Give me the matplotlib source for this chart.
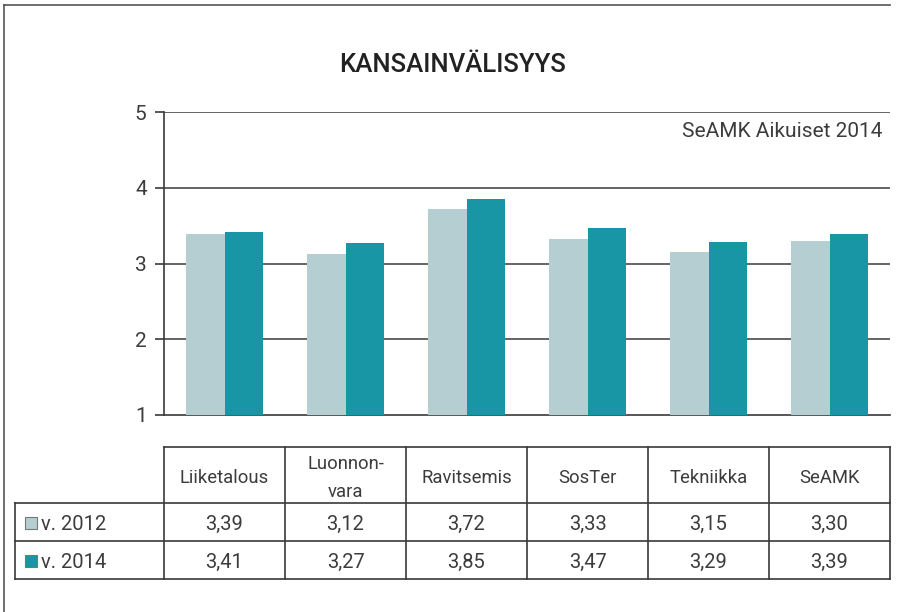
import matplotlib.pyplot as plt
from matplotlib.patches import Rectangle
from matplotlib.lines import Line2D

categories = ["Liiketalous", "Luonnon-\nvara", "Ravitsemis", "SosTer", "Tekniikka", "SeAMK"]
series_names = ["v. 2012", "v. 2014"]
values_2012 = [3.39, 3.12, 3.72, 3.33, 3.15, 3.30]
values_2014 = [3.41, 3.27, 3.85, 3.47, 3.29, 3.39]
y_ticks = [1, 2, 3, 4, 5]

title = "KANSAINVÄLISYYS"
note = "SeAMK Aikuiset 2014"

colors = ["#b5ced2", "#1896a5"]
text_color = "#3c3c3c"
line_color = "#3a3a3a"

plt.rcParams["font.family"] = ["Roboto", "DejaVu Sans"]

W, H = 897, 612
fig = plt.figure(figsize=(W / 100, H / 100), dpi=100)


def fx(px):
    return px / W


def fy(py):
    return 1 - py / H


# page frame: top and left edges only
fig.add_artist(Line2D([fx(4), fx(890)], [fy(5), fy(5)], color="#555555", lw=1.2))
fig.add_artist(Line2D([fx(4), fx(4)], [fy(5), 0], color="#555555", lw=1.2))

fig.text(fx(453), fy(65), title, ha="center", va="center", fontsize=18.5,
         fontweight="medium", color="#222222")

# bar chart
ax = fig.add_axes([fx(164), fy(415), fx(890) - fx(164), fy(112) - fy(415)])
n = len(categories)
xs = list(range(n))
bw = 0.315
ax.bar([x - bw / 2 for x in xs], values_2012, bw, color=colors[0], zorder=3)
ax.bar([x + bw / 2 for x in xs], values_2014, bw, color=colors[1], zorder=3)

ax.set_xlim(-0.5, n - 0.5)
ax.set_ylim(1, 5)
ax.set_yticks(y_ticks)
ax.set_yticklabels([str(t) for t in y_ticks], fontsize=15, color=text_color)
ax.set_xticks([])
ax.tick_params(axis="y", length=6.5, width=1.2, color=line_color, pad=6)
for t in y_ticks[1:]:
    ax.axhline(t, color="#4a4a4a", lw=1.2, zorder=1)
for s in ["top", "right"]:
    ax.spines[s].set_visible(False)
ax.spines["left"].set_color(line_color)
ax.spines["bottom"].set_color(line_color)
ax.spines["left"].set_linewidth(1.2)
ax.spines["bottom"].set_linewidth(1.2)
ax.text(0.99, 0.935, note, transform=ax.transAxes, ha="right", va="center",
        fontsize=15, color=text_color)

# data table below the chart
col_w = 121.0
label_w = 149.0
tab = fig.add_axes([fx(15), fy(579), fx(890) - fx(15), fy(447) - fy(579)])
tab.set_xlim(-0.5 - label_w / col_w, n - 0.5)
tab.set_ylim(132, 0)
tab.axis("off")

x_label_left = -0.5 - label_w / col_w
rows_y = [0, 56, 94, 132]
lk = dict(color=line_color, lw=1.2, clip_on=False)

tab.plot([-0.5, n - 0.5], [rows_y[0]] * 2, **lk)
for yy in rows_y[1:]:
    tab.plot([x_label_left, n - 0.5], [yy] * 2, **lk)
for i in range(n + 1):
    tab.plot([i - 0.5] * 2, [rows_y[0], rows_y[3]], **lk)
tab.plot([x_label_left] * 2, [rows_y[1], rows_y[3]], **lk)

for i, cat in enumerate(categories):
    tab.text(i, (rows_y[0] + rows_y[1]) / 2 + 3, cat, ha="center", va="center",
             fontsize=13.3, color=text_color, linespacing=1.75)

for r, vals in enumerate([values_2012, values_2014]):
    yc = (rows_y[r + 1] + rows_y[r + 2]) / 2
    for i, v in enumerate(vals):
        tab.text(i, yc + 2, f"{v:.2f}".replace(".", ","), ha="center", va="center",
                 fontsize=14.5, color=text_color)
    sq = 12 / col_w
    tab.add_patch(Rectangle((x_label_left + 10 / col_w, yc - 5), sq, 12,
                            facecolor=colors[r], edgecolor="#777777", lw=0.8))
    tab.text(x_label_left + 26 / col_w, yc + 2, series_names[r], ha="left", va="center",
             fontsize=14.5, color=text_color)

fig.savefig("out.png", dpi=100)
